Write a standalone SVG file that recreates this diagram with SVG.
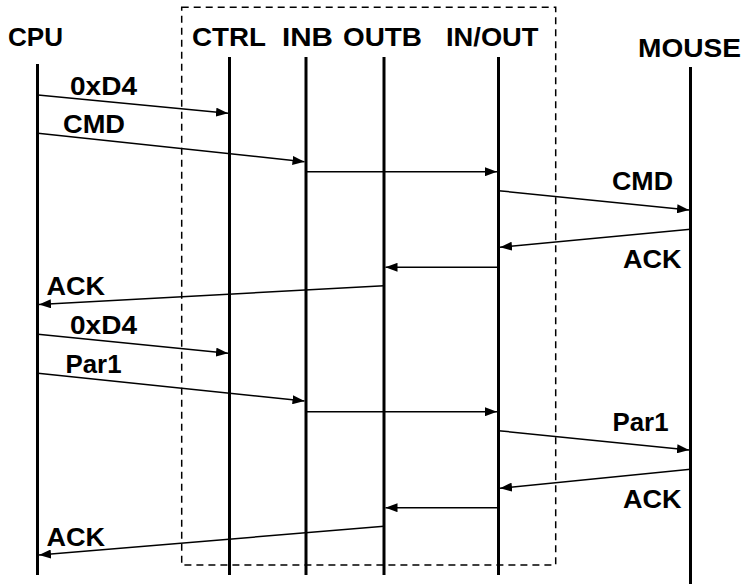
<svg xmlns="http://www.w3.org/2000/svg" width="744" height="584" viewBox="0 0 744 584">
<style>
text{font-family:"Liberation Sans",Arial,sans-serif;font-weight:bold;font-size:25px;fill:#000}
.life{stroke:#000;stroke-width:3;fill:none}
.msg{stroke:#000;stroke-width:1.5;fill:none;marker-end:url(#ah)}
.box{stroke:#000;stroke-width:1.5;fill:none;stroke-dasharray:7 5}
</style>
<defs>
<marker id="ah" markerUnits="userSpaceOnUse" viewBox="0 0 12 9" refX="12" refY="4.5" markerWidth="12" markerHeight="9" orient="auto">
<path d="M0,0 L12,4.5 L0,9 z" fill="#000"/>
</marker>
</defs>
<rect class="box" x="181.7" y="7.3" width="374" height="557.7"/>
<g id="cpu"><text x="8" y="45.5" textLength="55" lengthAdjust="spacingAndGlyphs">CPU</text><line class="life" x1="37.5" y1="64" x2="37.5" y2="575"/></g>
<g id="ctrl"><text x="192" y="46" textLength="74" lengthAdjust="spacingAndGlyphs">CTRL</text><line class="life" x1="229.5" y1="57" x2="229.5" y2="575"/></g>
<g id="inb"><text x="282" y="46" textLength="51" lengthAdjust="spacingAndGlyphs">INB</text><line class="life" x1="306" y1="57" x2="306" y2="575"/></g>
<g id="outb"><text x="343" y="46" textLength="79" lengthAdjust="spacingAndGlyphs">OUTB</text><line class="life" x1="384" y1="57" x2="384" y2="575"/></g>
<g id="inout"><text x="446" y="46" textLength="92.5" lengthAdjust="spacingAndGlyphs">IN/OUT</text><line class="life" x1="498.5" y1="57" x2="498.5" y2="575"/></g>
<g id="mouse"><text x="638" y="56.5" textLength="103" lengthAdjust="spacingAndGlyphs">MOUSE</text><line class="life" x1="690.5" y1="67" x2="690.5" y2="584"/></g>
<g id="connectors">
<line class="msg" x1="38" y1="95" x2="228" y2="113.3"/>
<text x="70" y="95" textLength="67" lengthAdjust="spacingAndGlyphs">0xD4</text>
<line class="msg" x1="38" y1="133.3" x2="304.5" y2="161.7"/>
<text x="63" y="133" textLength="62" lengthAdjust="spacingAndGlyphs">CMD</text>
<line class="msg" x1="306" y1="171.7" x2="497" y2="171.7"/>
<line class="msg" x1="498.5" y1="190.7" x2="689" y2="210"/>
<text x="612" y="190" textLength="61" lengthAdjust="spacingAndGlyphs">CMD</text>
<line class="msg" x1="690.5" y1="229.3" x2="500" y2="247.3"/>
<text x="623" y="267.5" textLength="58.5" lengthAdjust="spacingAndGlyphs">ACK</text>
<line class="msg" x1="498.5" y1="267.3" x2="385.5" y2="267.3"/>
<line class="msg" x1="384" y1="285.7" x2="39" y2="304.5"/>
<text x="46.5" y="295" textLength="58.5" lengthAdjust="spacingAndGlyphs">ACK</text>
<line class="msg" x1="38" y1="334.3" x2="228" y2="353.3"/>
<text x="70" y="334" textLength="67" lengthAdjust="spacingAndGlyphs">0xD4</text>
<line class="msg" x1="38" y1="373.3" x2="304.5" y2="401"/>
<text x="65.5" y="372.5" textLength="56" lengthAdjust="spacingAndGlyphs">Par1</text>
<line class="msg" x1="306" y1="411.7" x2="497" y2="411.7"/>
<line class="msg" x1="498.5" y1="430.7" x2="689" y2="450"/>
<text x="612.5" y="430.5" textLength="56" lengthAdjust="spacingAndGlyphs">Par1</text>
<line class="msg" x1="690.5" y1="469.3" x2="500" y2="488.3"/>
<text x="623" y="508" textLength="58.5" lengthAdjust="spacingAndGlyphs">ACK</text>
<line class="msg" x1="498.5" y1="507.7" x2="385.5" y2="507.7"/>
<line class="msg" x1="384" y1="526.3" x2="39" y2="555"/>
<text x="46.5" y="546" textLength="58.5" lengthAdjust="spacingAndGlyphs">ACK</text>
</g>
</svg>
